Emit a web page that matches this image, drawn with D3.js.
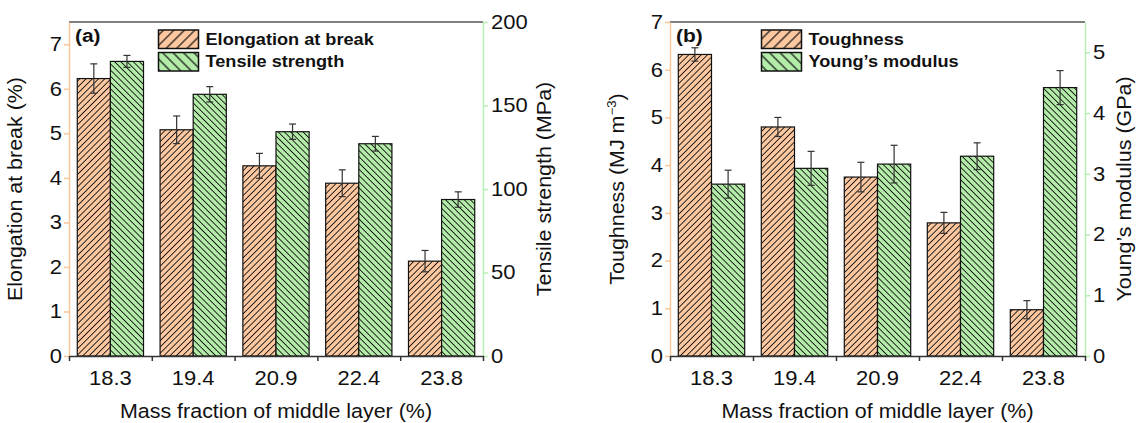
<!DOCTYPE html>
<html><head><meta charset="utf-8">
<script src="https://cdn.jsdelivr.net/npm/d3@7"></script>
<style>
body{margin:0;background:#fff}
svg{display:block}
text{font-family:"Liberation Sans",Arial,Helvetica,sans-serif;fill:#111}
</style>
</head><body>
<svg id="c" width="1142" height="423"></svg>
<script>
// ---------- data ----------
const categories = ["18.3", "19.4", "20.9", "22.4", "23.8"];
const elongation = [6.23, 5.08, 4.27, 3.88, 2.13];
const elongationErr = [0.33, 0.31, 0.28, 0.30, 0.24];
const tensile = [176.4, 156.7, 134.3, 127.1, 93.7];
const tensileErr = [3.6, 4.6, 4.6, 4.4, 4.6];
const toughness = [6.32, 4.80, 3.75, 2.79, 0.97];
const toughnessErr = [0.14, 0.20, 0.31, 0.22, 0.19];
const modulus = [2.83, 3.09, 3.16, 3.29, 4.42];
const modulusErr = [0.23, 0.28, 0.31, 0.22, 0.28];

const ticksElong = [0, 1, 2, 3, 4, 5, 6, 7];
const minorElong = [0.5, 1.5, 2.5, 3.5, 4.5, 5.5, 6.5, 7.5];
const ticksTensile = [0, 50, 100, 150, 200];
const minorTensile = [25, 75, 125, 175];
const ticksTough = [0, 1, 2, 3, 4, 5, 6, 7];
const minorTough = [0.5, 1.5, 2.5, 3.5, 4.5, 5.5, 6.5];
const ticksModulus = [0, 1, 2, 3, 4, 5];
const minorModulus = [0.5, 1.5, 2.5, 3.5, 4.5, 5.5];

// ---------- style ----------
const ORANGE = "#fdc8a0", GREEN = "#b3eba9";
const AX_ORANGE = "#fbc59a", AX_GREEN = "#b8efb2";
const SX = 1.1; // horizontal text stretch
const TOP = 22, BOT = 356;
const fmt = d3.format("d");

const svg = d3.select("#c");
const defs = svg.append("defs");
function hatch(id, color, spacing, angle, sw) {
  const p = defs.append("pattern").attr("id", id).attr("patternUnits", "userSpaceOnUse")
    .attr("width", spacing).attr("height", spacing).attr("patternTransform", `rotate(${angle})`);
  p.append("rect").attr("width", spacing).attr("height", spacing).attr("fill", color);
  p.append("line").attr("x1", spacing / 2).attr("x2", spacing / 2).attr("y1", -1).attr("y2", spacing + 1)
    .attr("stroke", "#111").attr("stroke-width", sw);
}
hatch("hO", ORANGE, 4.4, 45, 0.9);
hatch("hG", GREEN, 4.4, -45, 0.9);
hatch("hOL", ORANGE, 7.4, 45, 1.2);
hatch("hGL", GREEN, 7.4, -45, 1.2);

function stext(g, x, y, str, size, anchor, weight) {
  return g.append("text").attr("transform", `translate(${x},${y}) scale(${SX},1)`)
    .attr("text-anchor", anchor || "start").attr("font-size", size)
    .attr("font-weight", weight || "normal").text(str);
}

function panel(cfg) {
  const g = svg.append("g");
  const x = d3.scaleBand().domain(categories).range([cfg.x0, cfg.x1]);
  const xl = d3.scaleLinear().domain([0, categories.length]).range([cfg.x0, cfg.x1]);
  const yL = d3.scaleLinear().domain(cfg.leftDomain).range([BOT, TOP]);
  const yR = d3.scaleLinear().domain(cfg.rightDomain).range([BOT, TOP]);
  const bw = x.bandwidth() * 0.4;

  const series = [
    {vals: cfg.left, errs: cfg.leftErr, y: yL, fill: "url(#hO)", off: -bw},
    {vals: cfg.right, errs: cfg.rightErr, y: yR, fill: "url(#hG)", off: 0}
  ];
  series.forEach(s => {
    const c = x.bandwidth() / 2;
    g.append("g").selectAll("rect").data(categories).join("rect")
      .attr("x", d => x(d) + c + s.off).attr("width", bw)
      .attr("y", (d, i) => s.y(s.vals[i])).attr("height", (d, i) => BOT - s.y(s.vals[i]))
      .attr("fill", s.fill).attr("stroke", "#111").attr("stroke-width", 1.2);
    const eg = g.append("g").attr("stroke", "#333").attr("stroke-width", 1.2);
    categories.forEach((d, i) => {
      const cx = x(d) + c + s.off + bw / 2;
      const t = s.y(s.vals[i] + s.errs[i]), b = s.y(s.vals[i] - s.errs[i]);
      eg.append("line").attr("x1", cx).attr("x2", cx).attr("y1", t).attr("y2", b);
      eg.append("line").attr("x1", cx - 3.5).attr("x2", cx + 3.5).attr("y1", t).attr("y2", t);
      eg.append("line").attr("x1", cx - 3.5).attr("x2", cx + 3.5).attr("y1", b).attr("y2", b);
    });
  });

  // top frame line
  g.append("line").attr("x1", cfg.x0).attr("x2", cfg.x1).attr("y1", TOP).attr("y2", TOP)
    .attr("stroke", "#555").attr("stroke-width", 1.5);

  // left axis
  const la = g.append("g").attr("transform", `translate(${cfg.x0},0)`);
  la.call(d3.axisLeft(yL).tickValues(cfg.leftMinor).tickSize(3).tickFormat(""));
  la.call(d3.axisLeft(yL).tickValues(cfg.leftTicks).tickSize(5).tickSizeOuter(0).tickFormat(fmt));
  la.selectAll("line,path").attr("stroke", AX_ORANGE).attr("stroke-width", 1.5);
  la.selectAll("text").attr("font-size", 20).attr("fill", "#111").attr("x", -7 / SX)
    .attr("transform", `scale(${SX},1)`).style("font-family", "Liberation Sans, Arial, sans-serif");
  la.attr("font-family", null);

  // right axis
  const ra = g.append("g").attr("transform", `translate(${cfg.x1},0)`);
  ra.call(d3.axisRight(yR).tickValues(cfg.rightMinor).tickSize(3).tickFormat(""));
  ra.call(d3.axisRight(yR).tickValues(cfg.rightTicks).tickSize(5).tickSizeOuter(0).tickFormat(fmt));
  ra.selectAll("line,path").attr("stroke", AX_GREEN).attr("stroke-width", 1.5);
  ra.selectAll("text").attr("font-size", 20).attr("fill", "#111").attr("x", 8 / SX)
    .attr("transform", `scale(${SX},1)`).style("font-family", "Liberation Sans, Arial, sans-serif");
  ra.attr("font-family", null);

  // bottom axis
  const ba = g.append("g").attr("transform", `translate(0,${BOT})`);
  ba.call(d3.axisBottom(xl).tickValues(d3.range(categories.length + 1)).tickSize(5).tickSizeOuter(0).tickFormat(""));
  ba.selectAll("line,path").attr("stroke", "#333").attr("stroke-width", 1.5);
  const bl = g.append("g").attr("transform", `translate(0,${BOT})`);
  bl.call(d3.axisBottom(x).tickSize(0).tickPadding(0));
  bl.select(".domain").remove();
  bl.selectAll("text").attr("font-size", 20).attr("fill", "#111").attr("y", 29).attr("dy", 0)
    .attr("transform", `scale(${SX},1)`).style("font-family", "Liberation Sans, Arial, sans-serif");
  bl.attr("font-family", null);

  // axis titles
  stext(g, (cfg.x0 + cfg.x1) / 2, 418, "Mass fraction of middle layer (%)", 19.5, "middle");
  const lt = g.append("text").attr("transform", `translate(${cfg.x0 - cfg.ltOff},${(TOP + BOT) / 2}) rotate(-90) scale(${SX},1)`)
    .attr("text-anchor", "middle").attr("font-size", 19.5);
  cfg.leftTitle(lt);
  const rt = g.append("text").attr("transform", `translate(${cfg.x1 + cfg.rtOff},${(TOP + BOT) / 2}) rotate(-90) scale(${SX},1)`)
    .attr("text-anchor", "middle").attr("font-size", 19.5);
  cfg.rightTitle(rt);

  // panel label
  stext(g, cfg.x0 + 6, 42, cfg.tag, 19, "start", "bold");

  // legend
  const lx = cfg.legendX;
  g.append("rect").attr("x", lx).attr("y", 30).attr("width", 40).attr("height", 18.5)
    .attr("fill", "url(#hOL)").attr("stroke", "#111").attr("stroke-width", 1.5);
  g.append("rect").attr("x", lx).attr("y", 52.5).attr("width", 40).attr("height", 18.5)
    .attr("fill", "url(#hGL)").attr("stroke", "#111").attr("stroke-width", 1.5);
  stext(g, lx + 47, 44.5, cfg.legend[0], 16.5, "start", "bold");
  stext(g, lx + 47, 67, cfg.legend[1], 16.5, "start", "bold");
}

panel({
  x0: 69, x1: 483, tag: "(a)", legendX: 158.5,
  leftDomain: [0, 7.5], rightDomain: [0, 200],
  left: elongation, leftErr: elongationErr, right: tensile, rightErr: tensileErr,
  leftTicks: ticksElong, leftMinor: minorElong, rightTicks: ticksTensile, rightMinor: minorTensile,
  legend: ["Elongation at break", "Tensile strength"],
  ltOff: 47, rtOff: 68,
  leftTitle: t => t.text("Elongation at break (%)"),
  rightTitle: t => t.text("Tensile strength (MPa)")
});

panel({
  x0: 670, x1: 1085, tag: "(b)", legendX: 761.5,
  leftDomain: [0, 7], rightDomain: [0, 5.5],
  left: toughness, leftErr: toughnessErr, right: modulus, rightErr: modulusErr,
  leftTicks: ticksTough, leftMinor: minorTough, rightTicks: ticksModulus, rightMinor: minorModulus,
  legend: ["Toughness", "Young\u2019s modulus"],
  ltOff: 46, rtOff: 46,
  leftTitle: t => {
    t.append("tspan").text("Toughness (MJ m");
    t.append("tspan").attr("font-size", 12).attr("dy", -8).text("\u22123");
    t.append("tspan").attr("dy", 8).text(")");
  },
  rightTitle: t => t.text("Young\u2019s modulus (GPa)")
});
</script>
</body></html>
